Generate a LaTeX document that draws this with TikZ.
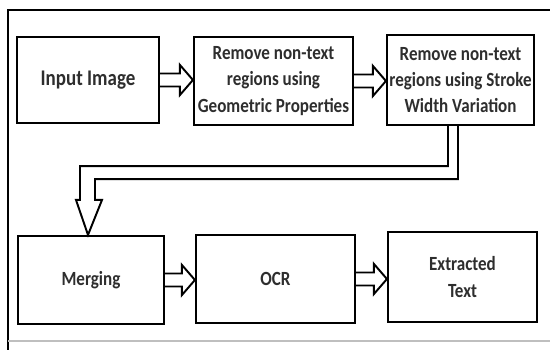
\documentclass[tikz,border=0pt]{standalone}
\usepackage{fontspec}
\usepackage{graphicx}
\setmainfont{Carlito}
\usetikzlibrary{calc}
\newcommand{\tl}[1]{\scalebox{1}[1.18]{#1}}
\tikzset{
  box/.style={draw=black, line width=1.2pt, fill=white, align=center, inner sep=1pt,
    font=\fontsize{9.7}{15}\selectfont\bfseries, text=black!82},
  flow/.style={draw=black, line width=1.1pt, line join=miter},
  frame/.style={draw=black, line width=1pt}
}
\begin{document}
\begin{tikzpicture}[x=0.02cm, y=-0.02cm]
\useasboundingbox[fill=white] (0,0) rectangle (550,350);
% frame
\draw[frame] (8,350) -- (8,10) -- (550,10);
\draw[black!25, line width=0.6pt] (8,341) -- (550,341);
% boxes
\node[box, minimum width=142*0.02cm, minimum height=86*0.02cm, font=\fontsize{10.8}{15}\selectfont\bfseries] (b1) at (88,80) {\tl{Input Image}};
\node[box, minimum width=159*0.02cm, minimum height=88*0.02cm] (b2) at (273.5,81) {\tl{Remove non-text}\\\tl{regions using}\\\tl{Geometric Properties}};
\node[box, minimum width=147*0.02cm, minimum height=90*0.02cm] (b3) at (460.5,80) {\tl{Remove non-text}\\\tl{regions using Stroke}\\\tl{Width Variation}};
\node[box, minimum width=146*0.02cm, minimum height=88*0.02cm] (b4) at (91,280) {\tl{Merging}};
\node[box, minimum width=159*0.02cm, minimum height=88*0.02cm] (b5) at (275.5,279) {\tl{OCR}};
\node[box, minimum width=149*0.02cm, minimum height=90*0.02cm] (b6) at (462.5,277) {\tl{Extracted}\\\tl{Text}};
% horizontal hollow arrows
\newcommand{\harrow}[2]{%
  \draw[flow] ($(#1.east)+(0,-6.5)$) -- ($(#1.east -| #2.west)+(-13,-6.5)$)
    -- ($(#1.east -| #2.west)+(-13,-15)$) -- (#1.east -| #2.west)
    -- ($(#1.east -| #2.west)+(-13,15)$) -- ($(#1.east -| #2.west)+(-13,6.5)$)
    -- ($(#1.east)+(0,6.5)$);}
\harrow{b1}{b2}
\harrow{b2}{b3}
\harrow{b4}{b5}
\harrow{b5}{b6}
% bent hollow arrow b3 -> b4
\coordinate (tip) at ($(b4.north)+(-3,0)$);
\draw[flow] ($(b3.south)+(-12.5,0)$) -- ($(b3.south)+(-12.5,40)$)
  -- ($(tip|-b3.south)+(-8,40)$) -- ($(tip)+(-8,-35)$) -- ($(tip)+(-12,-35)$)
  -- (tip) -- ($(tip)+(14,-35)$) -- ($(tip)+(7,-35)$)
  -- ($(tip|-b3.south)+(7,53)$) -- ($(b3.south)+(-2.5,53)$) -- ($(b3.south)+(-2.5,0)$);
\end{tikzpicture}
\end{document}
